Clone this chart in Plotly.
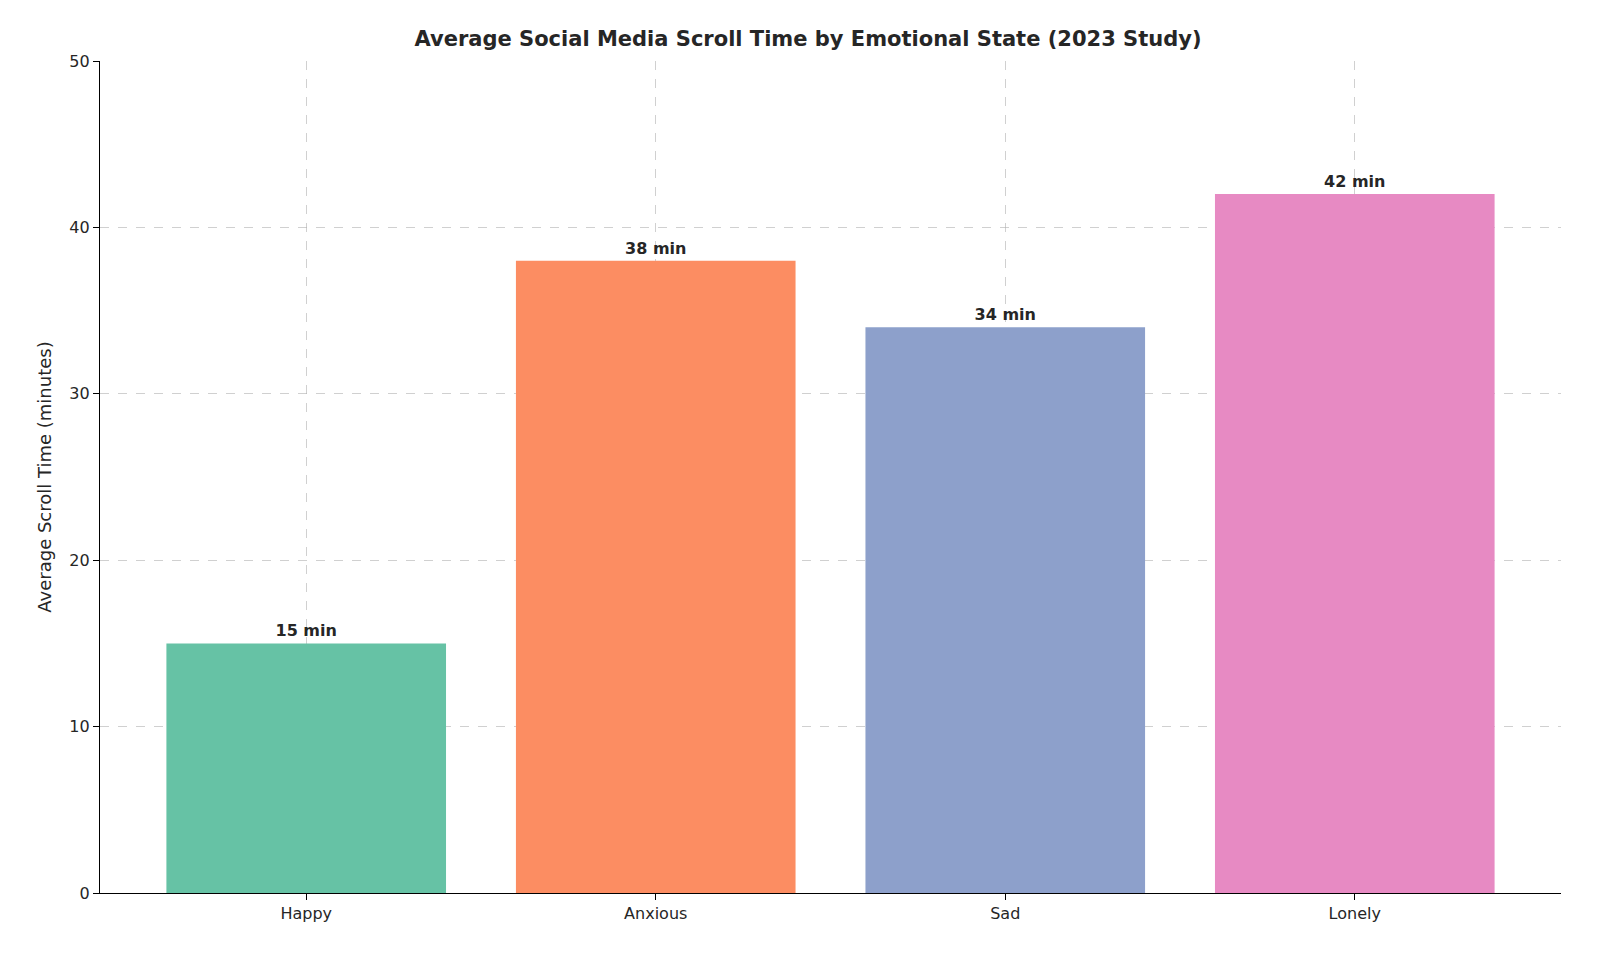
import plotly.graph_objects as go

categories = ["Happy", "Anxious", "Sad", "Lonely"]
values = [15, 38, 34, 42]
colors = ["#66c2a5", "#fc8d62", "#8da0cb", "#e78ac3"]
labels = [f"{v} min" for v in values]

fig = go.Figure(go.Bar(
    x=list(range(len(categories))), y=values, width=0.8,
    marker=dict(color=colors, line=dict(width=0)),
    text=labels, textposition="outside", cliponaxis=False,
    textfont=dict(family="DejaVu Sans", size=16, color="#262626", weight="bold"),
))
grid = dict(showgrid=True, gridcolor="rgba(176,176,176,0.6)", griddash="dash", gridwidth=1, layer="above traces")
fig.update_layout(
    width=1600, height=954, plot_bgcolor="white", paper_bgcolor="white",
    margin=dict(l=92, r=47, t=53, b=69),
    font=dict(family="DejaVu Sans", size=16, color="#262626"),
    title=dict(text="<b>Average Social Media Scroll Time by Emotional State (2023 Study)</b>",
               x=0.5, xanchor="center", y=0.968, yanchor="middle", font=dict(size=21, color="#262626")),
    showlegend=False, bargap=0.2,
)
fig.update_xaxes(range=[-0.59, 3.59], tickmode="array", tickvals=list(range(4)), ticktext=categories,
                 showline=True, linecolor="black", linewidth=1.3, ticks="outside", ticklen=6, tickcolor="black",
                 zeroline=False, **grid)
fig.update_yaxes(range=[0, 50], dtick=10, showline=True, linecolor="black", linewidth=1.3,
                 ticks="outside", ticklen=6, tickcolor="black", zeroline=False,
                 title=dict(text="Average Scroll Time (minutes)", font=dict(size=18), standoff=12), **grid)
fig.write_html("out.html")
